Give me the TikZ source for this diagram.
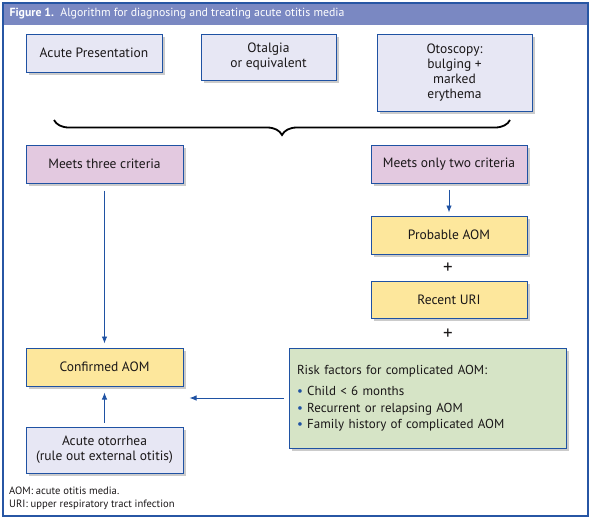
\documentclass[tikz,border=0pt]{standalone}
\usepackage{fontspec}
\setmainfont{PT Sans}
\usepackage{tikz}
\usetikzlibrary{decorations.pathreplacing}
\usetikzlibrary{arrows.meta,shadows}
\definecolor{frameblue}{HTML}{2756A4}
\definecolor{titleblue}{HTML}{7A88C2}
\definecolor{boxblue}{HTML}{1F52A3}
\definecolor{textgray}{HTML}{1A1718}
\definecolor{lavfill}{HTML}{E7E7F4}
\definecolor{pinkfill}{HTML}{E3C9E0}
\definecolor{yelfill}{HTML}{FDE79C}
\definecolor{greenfill}{HTML}{D6E4C6}
\tikzset{>={Latex[length=7pt,width=5.5pt]}}
\tikzset{
  box/.style={draw=boxblue, line width=1pt, align=center, text=textgray,
    font=\fontsize{13.5}{15}\selectfont, inner sep=3pt,
    drop shadow={shadow xshift=2.5pt, shadow yshift=-2.5pt, fill=black!45, opacity=.45}},
  flow/.style={->, draw=boxblue, line width=0.9pt},
  plus/.style={text=textgray, font=\fontsize{19}{20}\selectfont, inner sep=0pt},
  note/.style={anchor=west, text=textgray, font=\fontsize{10.6}{12}\selectfont, inner sep=0pt}
}

\begin{document}
\begin{tikzpicture}[x=1pt,y=-1pt]
\useasboundingbox (0,0) rectangle (591,520);

% Frame and title
\fill[titleblue] (3,3) rectangle (588,25);
\draw[frameblue, line width=1.3pt] (3,3) rectangle (588,516);
\node[anchor=west, text=white, font=\fontsize{11.8}{14}\selectfont] (title) at (6,14)
  {\textbf{Figure 1.}\ \ Algorithm for diagnosing and treating acute otitis media};

% Criteria
\node[box, fill=lavfill, minimum width=136pt, minimum height=38pt] (pres) at (94,53) {Acute Presentation};
\node[box, fill=lavfill, minimum width=135pt, minimum height=46pt] (otal) at (268.5,57) {Otalgia\\or equivalent};
\node[box, fill=lavfill, minimum width=155pt, minimum height=77pt] (otos) at (454.5,72.5) {Otoscopy:\\bulging +\\marked\\erythema};

% Brace
\draw[decorate, decoration={brace, amplitude=15pt, mirror}, line width=1.8pt] (54,120) -- (510,120);

% Outcomes
\node[box, fill=pinkfill, minimum width=157pt, minimum height=38pt] (three) at (104.5,164) {Meets three criteria};
\node[box, fill=pinkfill, minimum width=156pt, minimum height=38pt] (two) at (449,164) {Meets only two criteria};
\node[box, fill=yelfill, minimum width=156pt, minimum height=38pt] (prob) at (449,235) {Probable AOM};
\node[plus] (plusA) at (448,268) {+};
\node[box, fill=yelfill, minimum width=156pt, minimum height=37pt] (uri) at (449,299.5) {Recent URI};
\node[plus] (plusB) at (448,334) {+};
\node[box, fill=yelfill, minimum width=157pt, minimum height=38pt] (conf) at (104.5,367) {Confirmed AOM};
\node[box, fill=greenfill, minimum width=277pt, minimum height=100pt, text width=261pt, align=left,
  font=\fontsize{13}{16.5}\selectfont] (risk) at (427.5,398)
  {Risk factors for complicated AOM:\\[5pt]
   \textcolor{boxblue}{\textbullet}\ Child < 6 months\\
   \textcolor{boxblue}{\textbullet}\ Recurrent or relapsing AOM\\
   \textcolor{boxblue}{\textbullet}\ Family history of complicated AOM};
\node[box, fill=lavfill, minimum width=157pt, minimum height=46pt] (otor) at (104.5,450) {Acute otorrhea\\(rule out external otitis)};

% Arrows
\draw[flow, shorten <=7pt, shorten >=4pt] (three) -- (conf);
\draw[flow, shorten <=6pt, shorten >=3pt] (two) -- (prob);
\draw[flow, shorten <=5pt, shorten >=6pt] (risk) -- (risk -| conf.east);
\draw[flow, shorten <=4pt, shorten >=6pt] (otor) -- (conf);

% Notes
\node[note] (noteA) at (9,491) {AOM: acute otitis media.};
\node[note] (noteB) at (9,505) {URI: upper respiratory tract infection};

\end{tikzpicture}
\end{document}
